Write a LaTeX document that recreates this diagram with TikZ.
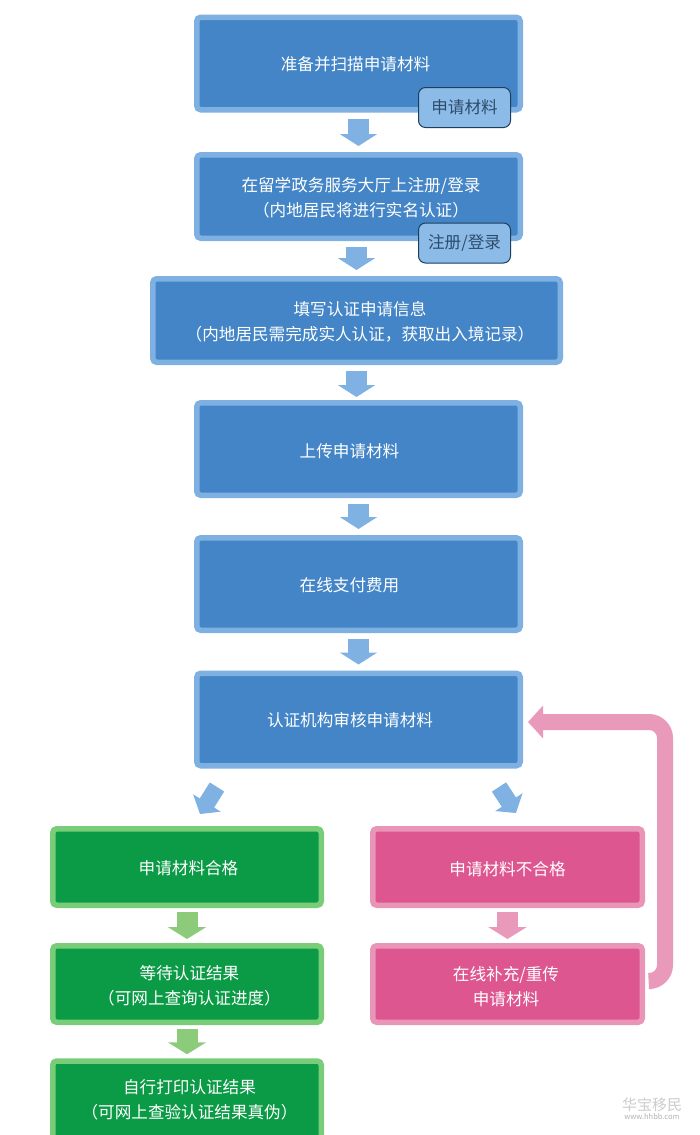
\documentclass[tikz,border=0pt]{standalone}
\usepackage{fontspec}
\setmainfont{Noto Sans CJK SC}
\usetikzlibrary{arrows.meta}
\definecolor{bluefill}{HTML}{4385C6}
\definecolor{blueedge}{HTML}{7FB0E2}
\definecolor{bluearrow}{HTML}{7FB1E3}
\definecolor{tagfill}{HTML}{8DBBE8}
\definecolor{tagedge}{HTML}{1D3F5E}
\definecolor{tagtext}{HTML}{2C4C6C}
\definecolor{greenfill}{HTML}{0B9A45}
\definecolor{greenedge}{HTML}{7ACD78}
\definecolor{greenarrow}{HTML}{8CCB7A}
\definecolor{pinkfill}{HTML}{DE5690}
\definecolor{pinkedge}{HTML}{E995B8}
\definecolor{pinkarrow}{HTML}{E99ABB}
\tikzset{
  x=1pt,y=-1pt,
  card/.style={draw,line width=5.5pt,rounded corners=4pt,inner sep=0pt},
  cardtext/.style={inner sep=0pt,align=center,text=white,font=\fontsize{16.6pt}{25pt}\selectfont},
  bluecard/.style={card,fill=bluefill,draw=blueedge,minimum width=323.5pt,minimum height=92.5pt},
  greencard/.style={card,fill=greenfill,draw=greenedge,minimum width=268.5pt,minimum height=76.5pt},
  pinkcard/.style={card,fill=pinkfill,draw=pinkedge,minimum width=269.5pt,minimum height=76.5pt},
  tag/.style={draw=tagedge,fill=tagfill,line width=1pt,rounded corners=7pt,inner sep=0pt,
    minimum width=92pt,minimum height=40pt,text=tagtext,font=\fontsize{16.6pt}{20pt}\selectfont},
  bigflow/.style={draw=bluearrow,line width=21pt,-{Triangle[width=37pt,length=12pt]},shorten <=6pt,shorten >=6pt},
  greenflow/.style={draw=greenarrow,line width=21pt,-{Triangle[width=38pt,length=12pt]},shorten <=4pt,shorten >=4pt},
  pinkflow/.style={draw=pinkarrow,line width=21pt,-{Triangle[width=38pt,length=12pt]},shorten <=4pt,shorten >=4pt},
  diagflow/.style={draw=bluearrow,line width=17pt,-{Triangle[width=32pt,length=13pt]}},
  returnflow/.style={draw=pinkarrow,line width=16pt,rounded corners=16pt,-{Triangle[width=32pt,length=15pt]}},
}
\begin{document}
\begin{tikzpicture}
\useasboundingbox (0,0) rectangle (700,1135);
\clip (0,0) rectangle (700,1135);
\fill[white] (0,0) rectangle (700,1135);
% main column
\node[bluecard] (b1) at (358.5,63.5) {};
\node[bluecard,minimum height=83.5pt] (b2) at (358.5,196.5) {};
\node[bluecard,minimum width=407.5pt,minimum height=83.5pt] (b3) at (356.5,320.5) {};
\node[bluecard] (b4) at (358.5,449) {};
\node[bluecard] (b5) at (358.5,584) {};
\node[bluecard] (b6) at (358.5,719.5) {};
\node[cardtext] (b1t) at (355.5,64) {准备并扫描申请材料};
\node[cardtext] (b2t) at (361,198) {在留学政务服务大厅上注册/登录\\（内地居民将进行实名认证）};
\node[cardtext] (b3t) at (360,321.5) {填写认证申请信息\\（内地居民需完成实人认证，获取出入境记录）};
\node[cardtext] (b4t) at (349.5,451) {上传申请材料};
\node[cardtext] (b5t) at (349.5,585) {在线支付费用};
\node[cardtext] (b6t) at (350,720.5) {认证机构审核申请材料};
% tags
\node[tag] (t1) at (464.5,107.5) {申请材料};
\node[tag] (t2) at (464.5,243) {注册/登录};
% outcome columns
\node[greencard] (g1) at (187,867) {};
\node[greencard] (g2) at (187,984) {};
\node[greencard,minimum height=86pt] (g3) at (187,1104) {};
\node[pinkcard] (p1) at (507.5,867) {};
\node[pinkcard] (p2) at (507.5,984) {};
\node[cardtext] (g1t) at (188.5,868.5) {申请材料合格};
\node[cardtext] (g2t) at (189.5,985.5) {等待认证结果\\（可网上查询认证进度）};
\node[cardtext] (g3t) at (189.5,1100) {自行打印认证结果\\（可网上查验认证结果真伪）};
\node[cardtext] (p1t) at (507.5,869) {申请材料不合格};
\node[cardtext] (p2t) at (506,986.5) {在线补充/重传\\申请材料};
% block arrows
\draw[bigflow] (b1.south) -- (b2.north);
\draw[bigflow] (b2.south -| b3.north) -- (b3.north);
\draw[bigflow,shorten >=3pt] (b3.south) -- (b3.south |- b4.north);
\draw[bigflow] (b4.south) -- (b5.north);
\draw[bigflow] (b5.south) -- (b6.north);
\draw[greenflow] (g1.south) -- (g2.north);
\draw[greenflow] (g2.south) -- (g3.north);
\draw[pinkflow] (p1.south) -- (p2.north);
\coordinate (dl0) at (217,787);
\coordinate (dl1) at (200,814);
\coordinate (dr0) at (499,787);
\coordinate (dr1) at (516,813);
\draw[diagflow] (dl0) -- (dl1);
\draw[diagflow] (dr0) -- (dr1);
\coordinate (rs) at (652,981);
\coordinate (rc1) at (665,981);
\coordinate (rc2) at (665,722);
\coordinate (re) at (528,722);
\draw[returnflow] (rs) -- (rc1) -- (rc2) -- (re);
% watermark
\node[text=white!80!black,font=\fontsize{15pt}{15pt}\selectfont,inner sep=0pt] (wm1) at (652,1105) {华宝移民};
\node[text=white!70!black,font=\fontsize{7.5pt}{8pt}\selectfont,inner sep=0pt] (wm2) at (652,1116.5) {www.hhbb.com};
\end{tikzpicture}
\end{document}
